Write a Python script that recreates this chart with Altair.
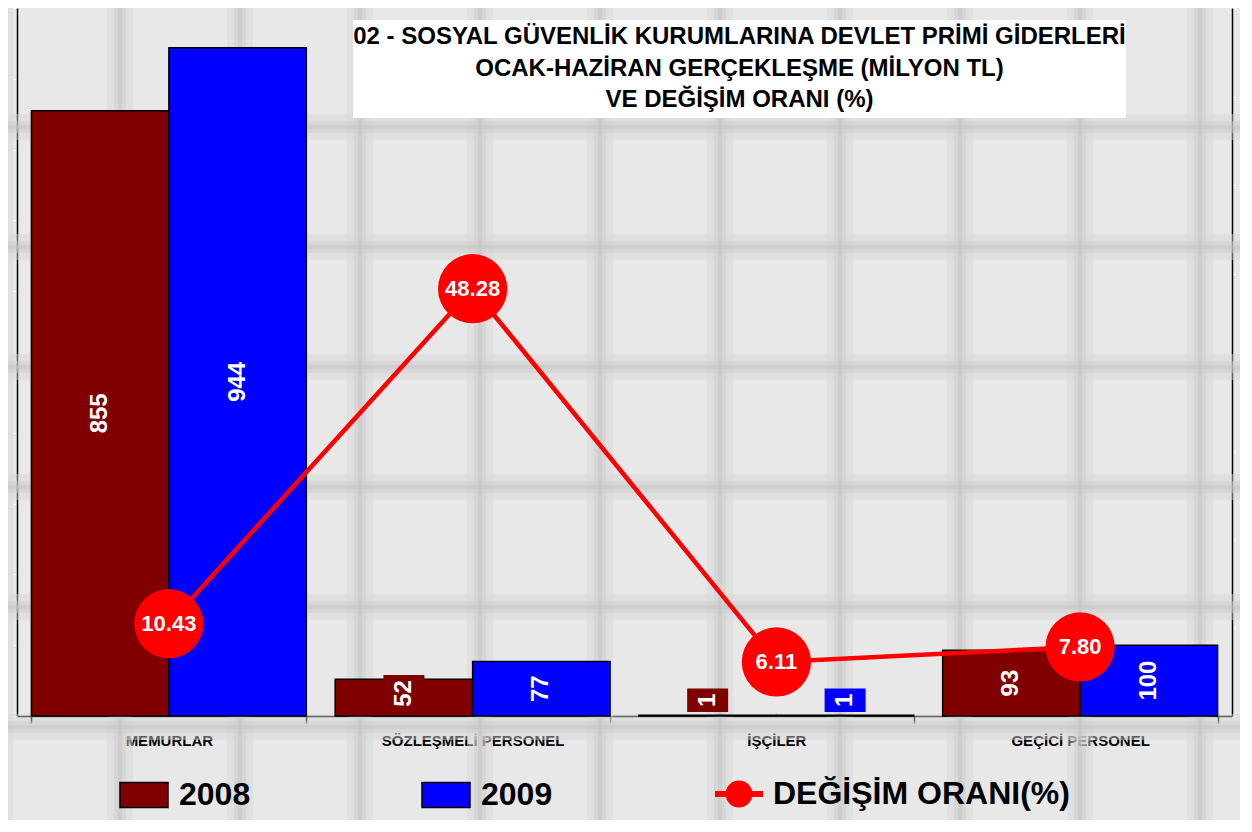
import altair as alt
import pandas as pd

# ---------------- data ----------------
categories = ["MEMURLAR", "SÖZLEŞMELİ PERSONEL", "İŞÇİLER", "GEÇİCİ PERSONEL"]
years = ["2008", "2009"]
values_2008 = [855, 52, 1, 93]
values_2009 = [944, 77, 1, 100]
change_pct = [10.43, 48.28, 6.11, 7.80]
line_label = "DEĞİŞİM ORANI(%)"
title_lines = [
    "02 - SOSYAL GÜVENLİK KURUMLARINA DEVLET PRİMİ GİDERLERİ",
    "OCAK-HAZİRAN GERÇEKLEŞME (MİLYON TL)",
    "VE DEĞİŞİM ORANI (%)",
]
bar_colors = ["#800000", "#0000FF"]
line_color = "#FF0000"

# ---------------- layout ----------------
W, H = 1215, 708
FONT = "Liberation Sans"
PX = H / 1000.0  # pixels per bar unit

rows = []
for c, a, b in zip(categories, values_2008, values_2009):
    rows.append({"category": c, "year": "2008", "value": a})
    rows.append({"category": c, "year": "2009", "value": b})
bars_df = pd.DataFrame(rows)
line_df = pd.DataFrame({"category": categories, "change": change_pct,
                        "series": [line_label] * len(categories)})

x_enc = alt.X(
    "category:N", sort=categories,
    scale=alt.Scale(type="band", paddingInner=0.095, paddingOuter=0.0475),
    axis=alt.Axis(title=None, labelAngle=0, labelFont=FONT, labelFontSize=15,
                  labelFontWeight="bold", labelColor="black", labelPadding=10,
                  labelLimit=400,
                  tickBand="extent", tickColor="black", tickSize=7, tickWidth=1.5,
                  domainColor="black", domainWidth=1.5, grid=False),
)
xoff = alt.XOffset("year:N", sort=years, scale=alt.Scale(paddingInner=0, paddingOuter=0))

y_scale = alt.Scale(domain=[0, 1000], nice=False, zero=True)
y_axis = alt.Axis(title=None, labels=False, values=list(range(0, 1001, 100)),
                  tickColor="white", tickSize=4, domainColor="black",
                  domainWidth=1.5, grid=False)
y2_scale = alt.Scale(domain=[0, 80], nice=False, zero=True)
y2_axis = alt.Axis(title=None, labels=False, orient="right",
                   values=list(range(0, 81, 10)), tickColor="white", tickSize=4,
                   domainColor="black", domainWidth=1.5, grid=False)

color_legend = alt.Legend(
    title=None, orient="none", legendX=102, legendY=762, direction="horizontal",
    symbolType="M-1,-0.52L1,-0.52L1,0.52L-1,0.52Z", symbolSize=2304,
    symbolStrokeColor="black", symbolStrokeWidth=1.5, labelFont=FONT,
    labelFontSize=32, labelFontWeight="bold", labelColor="black",
    labelOffset=10, columnPadding=168, padding=0,
)
color_enc = alt.Color("year:N", sort=years,
                      scale=alt.Scale(domain=years, range=bar_colors),
                      legend=color_legend)

bars = alt.Chart(bars_df).mark_bar(stroke="black", strokeWidth=1.5).encode(
    x=x_enc, xOffset=xoff,
    y=alt.Y("value:Q", scale=y_scale, axis=y_axis),
    color=color_enc,
)

label_base = alt.Chart(bars_df).transform_calculate(
    halfpx="(length(toString(datum.value)) * 13.5 + 10) / 2",
).transform_calculate(
    pos=f"max(datum.value / 2, (datum.halfpx + 4) / {PX})",
).transform_calculate(
    lo=f"datum.pos - datum.halfpx / {PX}",
    hi=f"datum.pos + datum.halfpx / {PX}",
)

boxes = label_base.mark_bar(width=41).encode(
    x=x_enc, xOffset=xoff,
    y=alt.Y("lo:Q", scale=y_scale, axis=y_axis), y2="hi:Q",
    color=color_enc,
)

bar_text = label_base.mark_text(
    angle=270, color="white", font=FONT, fontSize=24, fontWeight="bold",
    align="center", baseline="middle",
).encode(
    x=x_enc, xOffset=xoff,
    y=alt.Y("pos:Q", scale=y_scale, axis=y_axis),
    text=alt.Text("value:Q"),
)

fill_legend = alt.Legend(
    title=None, orient="none", legendX=698, legendY=762,
    symbolType=("M-1,-0.125L1,-0.125L1,0.125L-1,0.125Z "
                "M0.5625,0A0.5625,0.5625 0 1,1 -0.5625,0A0.5625,0.5625 0 1,1 0.5625,0Z"),
    symbolSize=2304, symbolStrokeWidth=0, labelFont=FONT, labelFontSize=32,
    labelFontWeight="bold", labelColor="black", labelOffset=10, padding=0,
    labelLimit=600,
)

line = alt.Chart(line_df).mark_line(color=line_color, strokeWidth=4.5).encode(
    x=x_enc, y=alt.Y("change:Q", scale=y2_scale, axis=y2_axis),
)
points = alt.Chart(line_df).mark_circle(size=4800, opacity=1).encode(
    x=x_enc, y=alt.Y("change:Q", scale=y2_scale, axis=y2_axis),
    fill=alt.Fill("series:N", scale=alt.Scale(range=[line_color]), legend=fill_legend),
)
point_text = alt.Chart(line_df).mark_text(
    color="white", font=FONT, fontSize=22, fontWeight="bold",
    align="center", baseline="middle",
).encode(
    x=x_enc, y=alt.Y("change:Q", scale=y2_scale, axis=y2_axis),
    text=alt.Text("change:Q", format=".2f"),
)

bar_group = alt.layer(bars, boxes, bar_text)
line_group = alt.layer(line, points, point_text)
data_group = alt.layer(bar_group, line_group).resolve_scale(y="independent")

# ------------- decorative tiled background -------------
vx = alt.X("k:Q", scale=alt.Scale(domain=[17 / 120, 17 / 120 + W / 120], nice=False, zero=False), axis=None)
hy = alt.Y("k:Q", scale=alt.Scale(domain=[1 / 120, 1 / 120 + H / 120], nice=False, zero=False, reverse=True), axis=None)


def vrule(width, color, opacity):
    return alt.Chart(alt.sequence(0, 11, as_="k")).mark_rule(
        color=color, strokeWidth=width, opacity=opacity).encode(
        x=vx, y=alt.value(0), y2=alt.value(830))


def hrule(width, color, opacity):
    return alt.Chart(alt.sequence(1, 8, as_="k")).mark_rule(
        color=color, strokeWidth=width, opacity=opacity).encode(
        y=hy, x=alt.value(-20), x2=alt.value(1240))


title_box = alt.Chart(alt.Data(values=[{}])).mark_rect(color="white").encode(
    x=alt.value(336), x2=alt.value(1109), y=alt.value(12), y2=alt.value(110),
)
bg_group = alt.layer(
    vrule(26, "#d6d6d6", 0.45), hrule(26, "#d6d6d6", 0.45),
    vrule(12, "#cccccc", 0.45), hrule(12, "#cccccc", 0.45),
    vrule(4, "#c6c6c6", 0.5), hrule(4, "#c6c6c6", 0.5),
    title_box,
).resolve_scale(x="independent", y="independent")

chart = alt.layer(bg_group, data_group).resolve_scale(
    x="independent", y="independent"
).properties(
    width=W, height=H,
    autosize=alt.AutoSizeParams(type="none"),
    padding={"left": 9, "top": 0, "right": 8, "bottom": 104},
    title=alt.TitleParams(
        text=title_lines, anchor="middle", frame="group", dx=115, dy=117,
        font=FONT, fontSize=24, fontWeight="bold", color="black",
        lineHeight=31.5, baseline="top", offset=0, orient="top",
    ),
).configure(background="#e8e8e8").configure_view(stroke=None)

chart.save("out.html", embed_options={"renderer": "svg", "actions": False})
